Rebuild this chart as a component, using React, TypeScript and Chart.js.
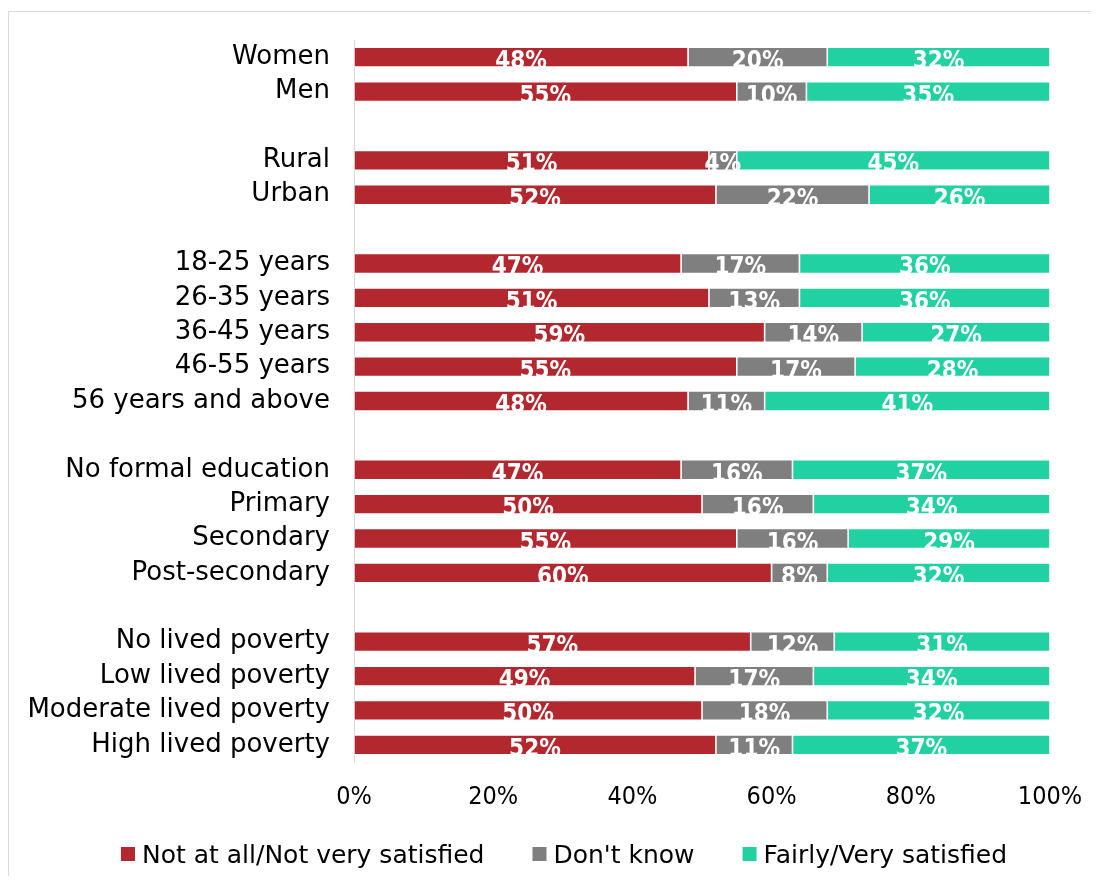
import { useEffect, useRef } from "react";
import { Chart, registerables } from "chart.js";

Chart.register(...registerables);

const categories = [
  "Women", "Men", "",
  "Rural", "Urban", "",
  "18-25 years", "26-35 years", "36-45 years", "46-55 years", "56 years and above", "",
  "No formal education", "Primary", "Secondary", "Post-secondary", "",
  "No lived poverty", "Low lived poverty", "Moderate lived poverty", "High lived poverty",
];
const notSatisfied = [48, 55, null, 51, 52, null, 47, 51, 59, 55, 48, null, 47, 50, 55, 60, null, 57, 49, 50, 52];
const dontKnow = [20, 10, null, 4, 22, null, 17, 13, 14, 17, 11, null, 16, 16, 16, 8, null, 12, 17, 18, 11];
const satisfied = [32, 35, null, 45, 26, null, 36, 36, 27, 28, 41, null, 37, 34, 29, 32, null, 31, 34, 32, 37];
const seriesNames = ["Not at all/Not very satisfied", "Don't know", "Fairly/Very satisfied"];
const seriesColors = ["#B2282E", "#7F7F7F", "#22D1A1"];
const xTickMax = 100;
const xTickStep = 20;

const labelPlugin = {
  id: "barLabels",
  afterDatasetsDraw(chart: any) {
    const ctx = chart.ctx;
    const area = chart.chartArea;
    chart.data.datasets.forEach((ds: any, di: number) => {
      const meta = chart.getDatasetMeta(di);
      meta.data.forEach((bar: any, i: number) => {
        const v = ds.data[i];
        if (v == null) return;
        const p = bar.getProps(["x", "y", "base", "height"], true);
        const cx = (p.x + p.base) / 2;
        ctx.save();
        ctx.beginPath();
        ctx.rect(area.left, p.y - p.height / 2, area.right - area.left, p.height);
        ctx.clip();
        ctx.font = "bold 24px 'DejaVu Sans Condensed', 'DejaVu Sans'";
        ctx.fillStyle = "#ffffff";
        ctx.textAlign = "center";
        ctx.textBaseline = "alphabetic";
        ctx.fillText(v + "%", cx, p.y + 11);
        ctx.restore();
      });
    });
  },
};

const legendPlugin = {
  id: "customLegend",
  afterDraw(chart: any) {
    const ctx = chart.ctx;
    ctx.save();
    ctx.font = "25px 'DejaVu Sans'";
    const box = 14;
    const gapText = 7;
    const gapItem = 48;
    const widths = seriesNames.map((t) => ctx.measureText(t).width);
    const total = widths.reduce((a, w) => a + box + gapText + w, 0) + gapItem * (seriesNames.length - 1);
    let x = 555 - total / 2;
    const cy = 842;
    seriesNames.forEach((t, k) => {
      ctx.fillStyle = seriesColors[k];
      ctx.fillRect(x, cy - box / 2, box, box);
      ctx.fillStyle = "#000";
      ctx.textAlign = "left";
      ctx.textBaseline = "alphabetic";
      ctx.fillText(t, x + box + gapText, cy + 8.5);
      x += box + gapText + widths[k] + gapItem;
    });
    ctx.restore();
  },
};

export default function App() {
  const ref = useRef<HTMLCanvasElement>(null);
  useEffect(() => {
    if (!ref.current) return;
    const values = [notSatisfied, dontKnow, satisfied];
    const chart = new Chart(ref.current, {
      type: "bar",
      data: {
        labels: categories,
        datasets: values.map((d, k) => ({
          label: seriesNames[k],
          data: d,
          backgroundColor: seriesColors[k],
          borderColor: "rgba(255,255,255,0.5)",
          borderWidth: 0.8,
          borderSkipped: false,
          categoryPercentage: 1,
          barPercentage: 0.58,
        })),
      },
      options: {
        indexAxis: "y",
        responsive: false,
        animation: false,
        layout: { padding: { top: 28, right: 41, left: 5, bottom: 54 } },
        scales: {
          x: {
            stacked: true,
            min: 0,
            max: xTickMax,
            grid: { display: false, drawTicks: false },
            border: { display: false },
            ticks: {
              stepSize: xTickStep,
              padding: 20,
              color: "#000",
              font: { family: "'DejaVu Sans Condensed', 'DejaVu Sans'", size: 25 },
              callback: (v: any) => v + "%",
            },
            afterFit: (s: any) => {
              s.height = 60;
              s.paddingLeft = 0;
              s.paddingRight = 0;
            },
          },
          y: {
            stacked: true,
            grid: { display: false, drawTicks: false },
            border: { display: true, color: "#d9d9d9", width: 1 },
            ticks: {
              padding: 24,
              color: "#000",
              autoSkip: false,
              font: { family: "'DejaVu Sans'", size: 26 },
            },
            afterFit: (s: any) => {
              s.width = 340;
              s.paddingTop = 0;
              s.paddingBottom = 0;
            },
          },
        },
        plugins: {
          legend: { display: false },
          tooltip: { enabled: false },
        },
      },
      plugins: [labelPlugin, legendPlugin],
    });
    return () => chart.destroy();
  }, []);
  return (
    <div style={{ paddingTop: 3 }}>
      <div style={{ borderTop: "1px solid #d9d9d9", borderLeft: "1px solid #d9d9d9" }}>
        <canvas ref={ref} width={1082} height={864} style={{ display: "block" }} />
      </div>
    </div>
  );
}
